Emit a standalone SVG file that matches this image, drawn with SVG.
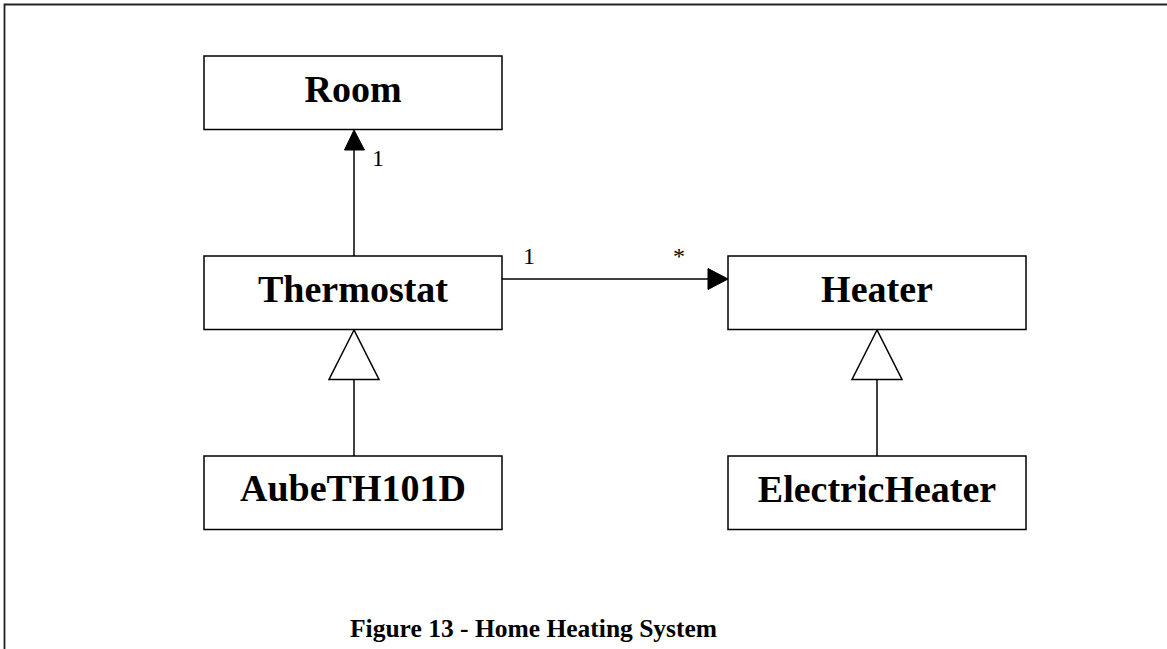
<svg xmlns="http://www.w3.org/2000/svg" width="1167" height="649" viewBox="0 0 1167 649">
<style>
.box{fill:#fff;stroke:#000;stroke-width:1.5}
.name{font-family:"Liberation Serif","Times New Roman",serif;font-weight:bold;font-size:38px;text-anchor:middle;fill:#000}
.mult{font-family:"Liberation Serif","Times New Roman",serif;font-size:24px;fill:#000}
.line{stroke:#000;stroke-width:1.5;fill:none}
.head{fill:#000;stroke:#000;stroke-width:1}
.gen{fill:#fff;stroke:#000;stroke-width:1.5}
.cap{font-family:"Liberation Serif","Times New Roman",serif;font-weight:bold;font-size:25.5px;fill:#000}
</style>
<rect width="1167" height="649" fill="#fff"/>
<g id="frame">
<path d="M4.5,649 V4.5 H1167" stroke="#222" stroke-width="1.8" fill="none"/>
</g>
<g id="connectors">
<line class="line" x1="354" y1="256" x2="354" y2="148"/>
<polygon class="head" points="354,130 344.5,150 364.5,150"/>
<text class="mult" x="372" y="165.5">1</text>
<line class="line" x1="502" y1="279" x2="710" y2="279"/>
<polygon class="head" points="728,279 708,268.5 708,289.5"/>
<text class="mult" x="523" y="263.5">1</text>
<text class="mult" x="673" y="263.5">*</text>
<line class="line" x1="354" y1="379.5" x2="354" y2="456"/>
<polygon class="gen" points="354,330 329,379.5 379,379.5"/>
<line class="line" x1="877" y1="379.5" x2="877" y2="456"/>
<polygon class="gen" points="877,330 852,379.5 902,379.5"/>
</g>
<g id="room">
<rect class="box" x="204" y="56" width="298" height="73.5"/>
<text class="name" x="353" y="101.7">Room</text>
</g>
<g id="thermostat">
<rect class="box" x="204" y="256" width="298" height="73.5"/>
<text class="name" x="353" y="301.7">Thermostat</text>
</g>
<g id="heater">
<rect class="box" x="728" y="256" width="298" height="73.5"/>
<text class="name" x="877" y="301.7">Heater</text>
</g>
<g id="aube">
<rect class="box" x="204" y="456" width="298" height="73.5"/>
<text class="name" x="353" y="501">AubeTH101D</text>
</g>
<g id="electricheater">
<rect class="box" x="728" y="456" width="298" height="73.5"/>
<text class="name" x="877" y="501.5">ElectricHeater</text>
</g>
<g id="caption">
<text class="cap" x="350" y="636.7">Figure 13 - Home Heating System</text>
</g>
</svg>
